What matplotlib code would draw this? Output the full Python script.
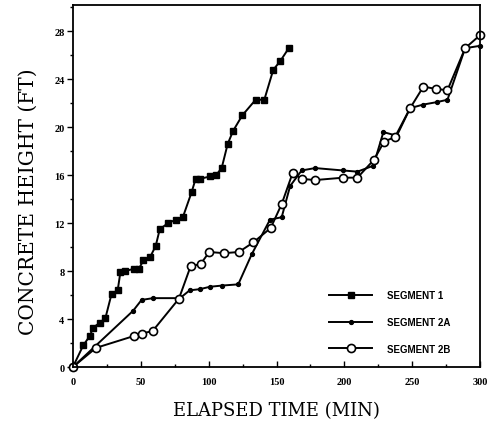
import matplotlib
matplotlib.use("Agg")
import matplotlib.pyplot as plt
from matplotlib.ticker import MultipleLocator

# values (minutes, feet)
seg1_t = [0, 7.6, 12.5, 15, 20, 24, 28.5, 33, 35, 38.3, 45, 48.6, 52, 57, 61, 64,
          70, 76, 81, 87.5, 90.4, 93.6, 101, 105.4, 109.6, 114, 118, 124.8, 134.6,
          141, 147.6, 152.6, 159]
seg1_h = [0, 1.8, 2.6, 3.3, 3.7, 4.1, 6.1, 6.4, 7.9, 8.0, 8.2, 8.2, 8.9, 9.2, 10.1, 11.5,
          12.0, 12.3, 12.5, 14.6, 15.7, 15.7, 15.9, 16.0, 16.6, 18.6, 19.7, 21.0, 22.3,
          22.3, 24.8, 25.5, 26.6]

seg2a_t = [0, 44.4, 50.6, 59, 78.9, 86, 93.6, 101, 110, 121.8, 131.7, 145.2, 153.8,
           160, 168.5, 178.4, 199, 209.6, 221.3, 228.7, 238.6, 248.4, 258.2, 268,
           275.9, 288.9, 300]
seg2a_h = [0, 4.7, 5.6, 5.75, 5.75, 6.4, 6.5, 6.7, 6.8, 6.9, 9.4, 12.3, 12.5,
           15.1, 16.4, 16.6, 16.4, 16.3, 16.8, 19.6, 19.3, 21.6, 21.9, 22.1,
           22.3, 26.6, 26.8]

seg2b_t = [0, 17, 45.2, 50.6, 58.7, 78.1, 86.7, 94.1, 100.5, 111.3, 122.3, 132.9,
           145.7, 153.8, 161.9, 168.5, 178.4, 199.2, 209.6, 221.8, 229.2, 237.3,
           248.4, 258.2, 267.3, 275.9, 288.9, 300]
seg2b_h = [0, 1.6, 2.6, 2.8, 3.0, 5.7, 8.4, 8.6, 9.6, 9.5, 9.6, 10.4,
           11.6, 13.6, 16.2, 15.7, 15.6, 15.8, 15.8, 17.3, 18.8, 19.2,
           21.6, 23.4, 23.2, 23.1, 26.6, 27.7]

fig = plt.figure(figsize=(4.89, 4.31), dpi=100)
ax = fig.add_axes([0.149, 0.146, 0.833, 0.840])

ax.plot(seg1_t, seg1_h, color="black", lw=1.4, marker="s", ms=3.8,
        mfc="black", mec="black", label="SEGMENT 1", clip_on=False)
ax.plot(seg2a_t, seg2a_h, color="black", lw=1.4, marker="o", ms=2.8,
        mfc="black", mec="black", label="SEGMENT 2A", clip_on=False)
ax.plot(seg2b_t, seg2b_h, color="black", lw=1.4, marker="o", ms=5.8,
        mfc="white", mec="black", mew=1.2, label="SEGMENT 2B", clip_on=False)

ax.set_xlim(0, 300)
ax.set_ylim(0, 30.2)
ax.xaxis.set_major_locator(MultipleLocator(50))
ax.xaxis.set_minor_locator(MultipleLocator(25))
ax.yaxis.set_major_locator(MultipleLocator(4))
ax.yaxis.set_minor_locator(MultipleLocator(2))
ax.tick_params(axis="x", which="both", direction="in", length=4, width=1, pad=7)
ax.tick_params(axis="x", which="minor", length=2.5)
ax.tick_params(axis="y", which="both", direction="out", length=4, width=1, pad=2)
ax.tick_params(axis="y", which="minor", length=2)
for lab in ax.get_xticklabels() + ax.get_yticklabels():
    lab.set_fontfamily("Liberation Serif")
    lab.set_fontweight("bold")
    lab.set_fontsize(7.5)
for sp in ax.spines.values():
    sp.set_linewidth(1.3)

ax.set_xlabel("ELAPSED TIME (MIN)", family="DejaVu Serif", fontsize=13, labelpad=11)
ax.set_ylabel("CONCRETE HEIGHT (FT)", family="DejaVu Serif", fontsize=14.5)
ax.yaxis.set_label_coords(-0.086, 0.46)

ax.legend(loc="upper left", bbox_to_anchor=(0.618, 0.225), frameon=False,
          borderpad=0, handlelength=4.4, handletextpad=1.5, labelspacing=1.7,
          prop={"family": "Liberation Sans", "weight": "bold", "size": 7})

fig.savefig("out.png", dpi=100)
